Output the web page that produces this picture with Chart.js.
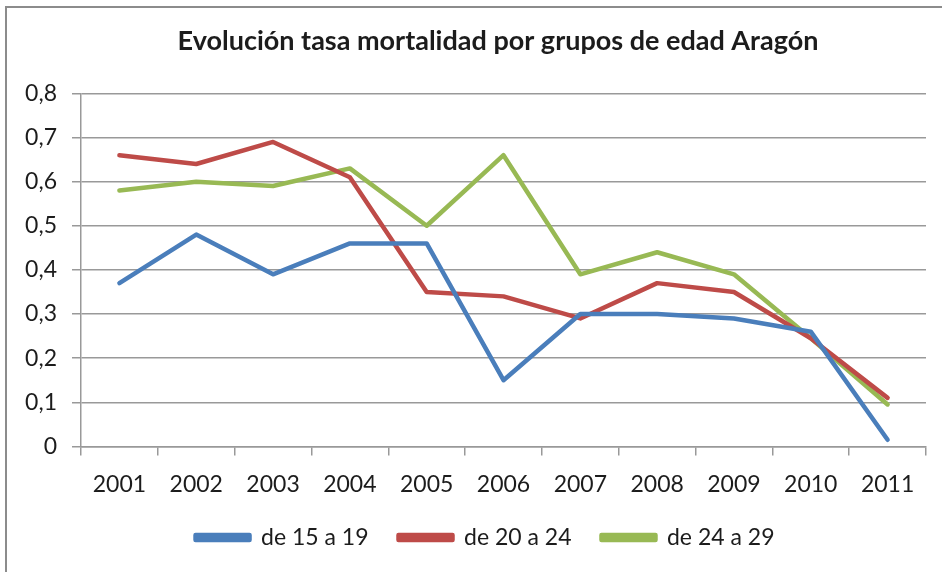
<!DOCTYPE html>
<html>
<head>
<meta charset="utf-8">
<script src="https://cdn.jsdelivr.net/npm/chart.js@4.4.0/dist/chart.umd.min.js"></script>
<style>
  html, body { margin: 0; padding: 0; background: #fff; overflow: hidden; width: 942px; height: 572px; }
  #frame { position: absolute; left: 5px; top: 6px; width: 968px; height: 600px; border: 2px solid #8c8c8c; background: #fff; }
  canvas { display: block; }
</style>
</head>
<body>
<div id="frame"><canvas id="mortChart" width="968" height="600"></canvas></div>
<script>
const years = ['2001', '2002', '2003', '2004', '2005', '2006', '2007', '2008', '2009', '2010', '2011'];
const grupo15a19 = [0.37, 0.48, 0.39, 0.46, 0.46, 0.15, 0.30, 0.30, 0.29, 0.26, 0.015];
const grupo20a24 = [0.66, 0.64, 0.69, 0.61, 0.35, 0.34, 0.29, 0.37, 0.35, 0.245, 0.11];
const grupo24a29 = [0.58, 0.60, 0.59, 0.63, 0.50, 0.66, 0.39, 0.44, 0.39, 0.245, 0.095];
const seriesNames = ['de 15 a 19', 'de 20 a 24', 'de 24 a 29'];
const seriesColors = ['#4a7ebb', '#be4b48', '#98b954'];

const FONT = 'Lato';
const TEXT = '#1c1c1c';
const GRID = '#999999';

function lineSet(label, data, color) {
    return {
        label: label,
        data: data,
        borderColor: color,
        backgroundColor: color,
        borderWidth: 4.5,
        borderJoinStyle: 'round',
        borderCapStyle: 'round',
        pointRadius: 0,
        tension: 0,
        fill: false
    };
}

// move title and legend after layout (the frame is wider than the visible area)
const nudgeBoxes = {
    id: 'nudgeBoxes',
    afterLayout(chart) {
        const shift = function(box, dx, dy) {
            if (!box) return;
            box.left += dx; box.right += dx;
            box.top += dy; box.bottom += dy;
        };
        shift(chart.titleBlock, 23, 0);
        shift(chart.legend, 10, -17);
    }
};

const ctx = document.getElementById('mortChart').getContext('2d');
const mortChart = new Chart(ctx, {
    type: 'line',
    data: {
        labels: years,
        datasets: [
            lineSet(seriesNames[0], grupo15a19, seriesColors[0]),
            lineSet(seriesNames[1], grupo20a24, seriesColors[1]),
            lineSet(seriesNames[2], grupo24a29, seriesColors[2])
        ]
    },
    options: {
        responsive: false,
        animation: false,
        layout: { padding: { left: 17, right: 49, top: 0, bottom: 32 } },
        plugins: {
            title: {
                display: true,
                text: 'Evolución tasa mortalidad por grupos de edad Aragón',
                color: TEXT,
                font: { family: FONT, size: 27, weight: 'bold' },
                padding: { top: 17, bottom: 36 }
            },
            legend: {
                position: 'bottom',
                labels: {
                    color: TEXT,
                    font: { family: FONT, size: 23 },
                    boxWidth: 54,
                    boxHeight: 5,
                    padding: 30
                }
            },
            tooltip: { enabled: false }
        },
        scales: {
            x: {
                offset: true,
                grid: {
                    offset: true,
                    drawOnChartArea: false,
                    drawTicks: true,
                    tickLength: 9,
                    color: GRID,
                    lineWidth: 1.5
                },
                border: { color: GRID, width: 1.5 },
                ticks: {
                    color: TEXT,
                    font: { family: FONT, size: 23 },
                    padding: 15,
                    maxRotation: 0
                }
            },
            y: {
                min: 0,
                max: 0.8,
                afterFit: function(scale) { scale.width = 57; },
                grid: {
                    color: GRID,
                    lineWidth: 1.5,
                    tickLength: 9
                },
                border: { color: GRID, width: 1.5 },
                ticks: {
                    stepSize: 0.1,
                    color: TEXT,
                    font: { family: FONT, size: 23 },
                    padding: 15,
                    callback: function(value) {
                        return value === 0 ? '0' : value.toFixed(1).replace('.', ',');
                    }
                }
            }
        }
    },
    plugins: [nudgeBoxes]
});
</script>
</body>
</html>
